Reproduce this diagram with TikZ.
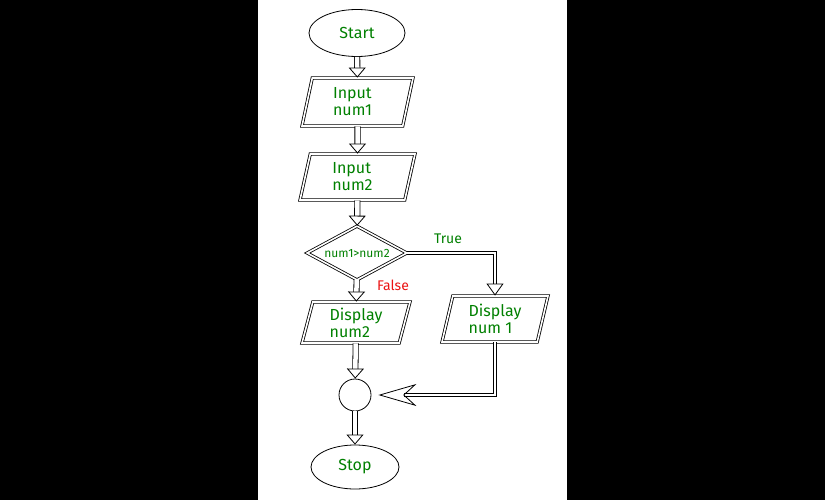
\documentclass[tikz,border=0pt]{standalone}
\usepackage{fontspec}
\setmainfont{Fira Sans}
\usetikzlibrary{shapes.geometric}
\usetikzlibrary{arrows.meta}

\definecolor{lblgreen}{RGB}{0,128,0}
\definecolor{lblred}{RGB}{235,20,20}

\tikzset{
  io/.style={trapezium, trapezium left angle=70, trapezium right angle=110,
    trapezium stretches body, draw, double, double distance=1.6pt, line width=0.8pt,
    inner sep=0pt, align=left, text=lblgreen, font=\fontsize{16}{17}\selectfont},
  term/.style={ellipse, draw, line width=0.8pt, inner sep=0pt,
    text=lblgreen, font=\fontsize{16}{17}\selectfont},
  flow/.style={draw, double, double distance=4.5pt, line width=0.8pt,
    -{Triangle[open, length=10pt, width=17pt, line width=0.8pt]}},
  link/.style={draw, double, double distance=2.5pt, line width=0.8pt},
}

\begin{document}
\begin{tikzpicture}[x=1pt, y=-1pt]
                    \useasboundingbox (0,0) rectangle (825,500);
                    \fill[black] (0,0) rectangle (825,500);
                    \fill[white] (258,0) rectangle (567,500);
                    \node[term, minimum width=96pt, minimum height=47pt] (start) at (357,33) {Start};
                    \node[io, minimum width=111pt, minimum height=48pt] (in1) at (357.5,102) {Input\\num1\hspace*{10pt}};
                    \node[io, minimum width=115pt, minimum height=46pt] (in2) at (357.5,177) {Input\\num2\hspace*{10pt}};
                    \node[diamond, draw, double, double distance=1.6pt, line width=0.8pt, aspect=1.85,
                          minimum width=100pt, minimum height=54pt, inner sep=0pt, text=lblgreen,
                          font=\fontsize{12}{13}\selectfont] (cmp) at (357,253) {num1>num2};
                    \node[io, minimum width=108pt, minimum height=41pt] (out2) at (356,322.5) {Display\\num2\hspace*{6pt}};
                    \node[io, minimum width=106pt, minimum height=46pt] (out1) at (495,319) {Display\\num 1\hspace*{6pt}};
                    \node[circle, draw, line width=0.8pt, minimum size=32pt, inner sep=0pt] (join) at (355,395) {};
                    \node[term, minimum width=88pt, minimum height=44pt] (stop) at (355,467) {Stop};
                    \draw[flow] (start) -- (in1);
                    \draw[flow] (in1) -- (in2);
                    \draw[flow] (in2) -- (cmp);
                    \draw[flow] (cmp) -- (out2);
                    \draw[flow] (out2) -- (join);
                    \draw[flow] (join) -- (stop);
                    \draw[link, -{Triangle[open, length=12pt, width=17pt, line width=0.8pt]}] (cmp.east) -| (out1.north);
                    \draw[link, -{Stealth[open, length=38pt, width=22pt, inset=12pt, line width=0.8pt]}, shorten >=7pt] (out1.south) |- (join.east);
                    \node[text=lblgreen, font=\fontsize{14}{15}\selectfont] (true) at (448,239) {True};
                    \node[text=lblred, font=\fontsize{14}{15}\selectfont] (false) at (393,285) {False};
                \end{tikzpicture}
\end{document}
